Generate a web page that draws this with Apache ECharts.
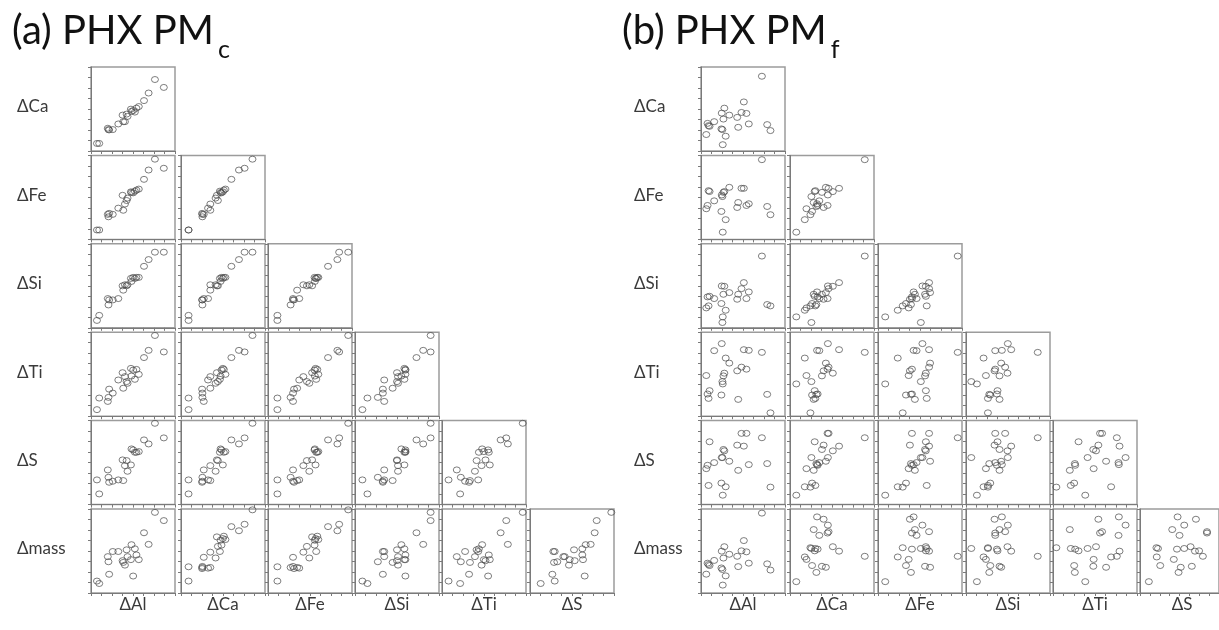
<!DOCTYPE html>
<html><head><meta charset="utf-8">
<script src="https://cdn.jsdelivr.net/npm/echarts@6/dist/echarts.min.js"></script>
<style>html,body{margin:0;padding:0;background:#fff}#c{width:1219px;height:630px}</style>
</head><body><div id="c"></div>
<script>
// Variable order in the matrices
const rowLabels = ['ΔCa', 'ΔFe', 'ΔSi', 'ΔTi', 'ΔS', 'Δmass'];
const colLabels = ['ΔAl', 'ΔCa', 'ΔFe', 'ΔSi', 'ΔTi', 'ΔS'];

// (a) PHX PM_c — per-sample values (relative units, 0-100 of each panel's range)
const cAl   = [7.1, 9.8, 20.0, 20.8, 21.6, 25.9, 32.5, 37.6, 38.4, 40.4, 42.4, 43.5, 47.5, 48.2, 50.2, 52.2, 54.1, 56.9, 63.1, 68.6, 76.1, 86.7];
const cCa   = [9.0, 9.0, 27.1, 25.5, 25.1, 25.5, 32.2, 42.7, 34.9, 34.9, 43.9, 41.2, 49.8, 47.1, 48.2, 46.3, 51.0, 52.9, 60.0, 69.0, 85.1, 75.7];
const cFe   = [11.2, 11.2, 29.8, 26.9, 31.0, 29.8, 37.2, 52.5, 34.7, 42.1, 46.3, 49.2, 56.6, 55.8, 55.4, 57.4, 58.7, 59.9, 71.5, 82.6, 95.5, 84.7];
const cSi   = [8.8, 14.8, 34.8, 27.2, 33.2, 33.2, 34.8, 50.0, 44.8, 51.2, 50.0, 51.2, 58.8, 55.2, 60.0, 58.8, 60.0, 60.0, 73.2, 81.2, 90.0, 90.0];
const cTi   = [7.8, 21.6, 17.6, 22.4, 32.2, 27.5, 43.1, 51.8, 33.3, 47.1, 41.2, 39.2, 56.9, 47.8, 54.9, 43.9, 55.7, 49.8, 69.8, 78.4, 96.1, 76.5];
const cS    = [29.4, 12.7, 41.3, 32.5, 26.6, 27.8, 29.4, 53.2, 28.6, 46.4, 52.4, 39.7, 47.2, 66.3, 65.1, 62.3, 62.3, 63.1, 77.0, 72.2, 96.8, 79.4];
// Δmass as drawn against ΔAl, ΔSi, ΔTi, ΔS
const cMass = [14.2, 11.3, 43.3, 37.2, 22.3, 49.4, 49.4, 38.5, 36.4, 33.2, 51.4, 43.3, 39.7, 57.5, 20.2, 52.6, 45.3, 39.7, 71.7, 57.9, 96.0, 86.2];
// Δmass as drawn against ΔCa and ΔFe (the reference shows a tighter pattern there)
const cMassCaFe = [14.2, 31.2, 42.5, 30.4, 29.1, 31.6, 29.6, 66.8, 30.4, 48.6, 55.5, 41.7, 64.8, 62.8, 57.0, 49.4, 67.6, 63.6, 79.0, 74.1, 99.0, 81.8];

// (b) PHX PM_f
const fAl   = [6.3, 7.8, 9.0, 10.2, 15.7, 24.7, 24.3, 25.5, 26.7, 27.8, 29.4, 25.9, 33.7, 43.1, 44.3, 48.2, 51.0, 54.1, 56.9, 72.5, 78.8, 82.7];
const fCa   = [19.6, 32.9, 30.2, 29.4, 34.9, 45.1, 26.3, 25.5, 38.0, 51.0, 17.6, 7.5, 42.7, 40.0, 28.2, 45.9, 58.4, 44.7, 32.2, 89.0, 31.4, 24.3];
const fFe   = [36.5, 40.4, 58.0, 57.0, 45.9, 52.9, 33.3, 51.0, 56.0, 56.9, 23.5, 8.6, 62.0, 38.0, 43.9, 60.8, 60.8, 40.4, 42.4, 94.9, 39.2, 29.4];
const fSi   = [23.7, 36.8, 26.1, 37.5, 34.8, 49.8, 28.9, 6.3, 39.9, 49.4, 20.9, 13.0, 41.9, 34.0, 39.9, 46.6, 53.8, 34.8, 42.7, 85.4, 27.7, 26.1];
const fTi   = [48.4, 26.4, 21.2, 30.4, 78.0, 86.4, 25.2, 41.2, 48.0, 51.2, 69.2, 38.4, 63.2, 54.0, 20.0, 58.4, 79.2, 56.0, 78.4, 76.0, 26.0, 4.0];
const fS    = [42.8, 46.8, 22.8, 74.8, 50.0, 56.0, 25.6, 56.0, 65.6, 64.0, 21.2, 11.2, 51.6, 70.8, 40.8, 84.8, 69.6, 84.8, 47.6, 79.6, 48.8, 20.8];
// Δmass as drawn against ΔCa, ΔFe, ΔSi, ΔTi, ΔS
const fMass = [40.0, 52.2, 53.0, 50.2, 68.6, 80.8, 32.7, 53.0, 31.8, 55.1, 42.9, 13.5, 30.6, 87.8, 75.5, 73.0, 49.8, 71.4, 90.6, 43.7, 24.5, 53.9];
// Δmass as drawn against ΔAl (the reference panel repeats the ΔCa–ΔAl pattern)
const fMassAl = [22.4, 35.5, 33.9, 32.7, 38.8, 49.8, 29.8, 28.0, 41.6, 55.1, 20.4, 9.4, 46.1, 43.7, 31.4, 50.2, 62.4, 49.0, 35.5, 95.1, 34.7, 27.3];

const matrices = [
  { title: '(a) PHX PM', sub: 'c', titleX: 12, labelX: 17,
    lefts: [91, 181, 268, 355, 442, 530],
    cols: [cAl, cCa, cFe, cSi, cTi, cS], rows: [cCa, cFe, cSi, cTi, cS, cMass],
    override: { '5-1': cMassCaFe, '5-2': cMassCaFe } },
  { title: '(b) PHX PM', sub: 'f', titleX: 622, labelX: 634,
    lefts: [701, 790, 878, 966, 1053, 1140],
    cols: [fAl, fCa, fFe, fSi, fTi, fS], rows: [fCa, fFe, fSi, fTi, fS, fMass],
    override: { '5-0': fMassAl } }
];

// layout
const PITCH_Y = 88.4, TOP0 = 67, W = 84, H = 84;
const axisCol = '#7a7a7a';

const grids = [], xAxes = [], yAxes = [], series = [], graphics = [];

function measure(text, font) {
  const cv = document.createElement('canvas').getContext('2d');
  cv.font = font; return cv.measureText(text).width;
}

matrices.forEach(m => {
  for (let i = 0; i < 6; i++) {
    for (let j = 0; j <= i; j++) {
      const idx = grids.length;
      grids.push({ left: m.lefts[j], top: TOP0 + i * PITCH_Y, width: W, height: H,
        show: true, borderColor: '#9c9c9c', borderWidth: 1.5, backgroundColor: '#fff', containLabel: false });
      const ax = {
        gridIndex: idx, type: 'value', min: 0, max: 100, interval: 12.5,
        axisLine: { show: true, onZero: false, lineStyle: { color: axisCol, width: 1 } },
        axisTick: { show: true, length: 3, inside: false, lineStyle: { color: axisCol, width: 1 } },
        axisLabel: { show: false }, splitLine: { show: false }
      };
      xAxes.push(Object.assign({}, ax));
      yAxes.push(Object.assign({}, ax));
      const xs = m.cols[j];
      const ys = m.override[i + '-' + j] || m.rows[i];
      series.push({
        type: 'scatter', xAxisIndex: idx, yAxisIndex: idx, silent: true, animation: false,
        symbol: 'circle', symbolSize: [7, 6],
        itemStyle: { color: 'rgba(255,255,255,0)', borderColor: '#4c4c4c', borderWidth: 0.9 },
        data: xs.map((v, k) => [v, ys[k]])
      });
    }
    graphics.push({ type: 'text', x: m.labelX, y: TOP0 + i * PITCH_Y + 40,
      style: { text: rowLabels[i], font: '17px Lato', fill: '#3a3a3a', verticalAlign: 'middle', align: 'left' } });
  }
  for (let j = 0; j < 6; j++) {
    graphics.push({ type: 'text', x: m.lefts[j] + W / 2, y: 605,
      style: { text: colLabels[j], font: '17px Lato', fill: '#3a3a3a', verticalAlign: 'middle', align: 'center' } });
  }
  const tf = '40px Lato';
  graphics.push({ type: 'text', x: m.titleX, y: 31,
    style: { text: m.title, font: tf, fill: '#111', verticalAlign: 'middle', align: 'left' } });
  graphics.push({ type: 'text', x: m.titleX + measure(m.title, tf) + 4, y: 50,
    style: { text: m.sub, font: '25px Lato', fill: '#111', verticalAlign: 'middle', align: 'left' } });
});

const chart = echarts.init(document.getElementById('c'), null, { renderer: 'canvas' });
chart.setOption({
  animation: false,
  backgroundColor: '#fff',
  grid: grids, xAxis: xAxes, yAxis: yAxes, series: series, graphic: graphics
});
</script>
</body></html>
